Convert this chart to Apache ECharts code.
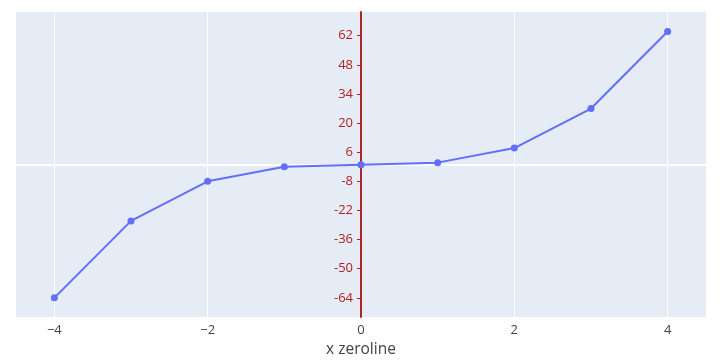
<!DOCTYPE html>
<html><head><meta charset="utf-8">
<script src="https://cdn.jsdelivr.net/npm/echarts@6/dist/echarts.min.js"></script>
<style>html,body{margin:0;padding:0;background:#fff}#c{width:721px;height:360px}</style>
</head><body><div id="c"></div>
<script>
const xValues = [-4, -3, -2, -1, 0, 1, 2, 3, 4];
const yValues = [-64, -27, -8, -1, 0, 1, 8, 27, 64];
const xTicks = [-4, -2, 0, 2, 4];
const yTicks = [-64, -50, -36, -22, -8, 6, 20, 34, 48, 62];
const xTitle = 'x zeroline';

const chart = echarts.init(document.getElementById('c'), null, {renderer: 'canvas'});
const fmt = v => (v < 0 ? '\u2212' + Math.abs(v) : String(v));
const FF = '"Open Sans", sans-serif';
const L = 16, R = 15, T = 12, B = 43, W = 721;
const xMin = -4.5, xMax = 4.5, yMin = -73.2, yMax = 73.4;
// second grid starts where x = 0 lies in the first grid, to host the y labels
const zeroLeft = L + (0 - xMin) / (xMax - xMin) * (W - L - R);
chart.setOption({
  animation: false,
  grid: [
    {left: L, right: R, top: T, bottom: B, show: true, backgroundColor: '#e5ecf6', borderWidth: 0, containLabel: false, outerBoundsMode: 'none'},
    {left: zeroLeft, right: R, top: T, bottom: B, show: false, containLabel: false, outerBoundsMode: 'none'}
  ],
  xAxis: [{
    type: 'value', min: xMin, max: xMax,
    name: xTitle, nameLocation: 'middle', nameGap: 19,
    nameTextStyle: {color: '#444', fontSize: 15.5, fontFamily: FF},
    axisLine: {show: false}, axisTick: {show: false, customValues: xTicks},
    axisLabel: {customValues: xTicks, color: '#444', fontSize: 13, margin: 7, fontFamily: FF, formatter: fmt},
    splitLine: {show: true, lineStyle: {color: '#fff', width: 1}}
  }, {
    gridIndex: 1, type: 'value', min: 0, max: xMax, show: false
  }],
  yAxis: [{
    type: 'value', min: yMin, max: yMax,
    axisLine: {show: true, onZero: true, lineStyle: {color: '#b22222', width: 2}},
    axisTick: {show: false}, axisLabel: {show: false}, splitLine: {show: false}
  }, {
    gridIndex: 1, type: 'value', min: yMin, max: yMax, position: 'left',
    axisLine: {show: false, onZero: false},
    axisTick: {show: true, customValues: yTicks, length: 4, inside: false, lineStyle: {color: '#b22222', width: 1}},
    axisLabel: {customValues: yTicks, color: '#b22222', fontSize: 13, margin: 8, fontFamily: FF},
    splitLine: {show: false}
  }],
  series: [{
    type: 'line',
    data: xValues.map((x, i) => [x, yValues[i]]),
    symbol: 'circle', symbolSize: 7,
    lineStyle: {color: '#636efa', width: 2},
    itemStyle: {color: '#636efa'},
    markLine: {
      silent: true, symbol: 'none', label: {show: false}, z: 1,
      lineStyle: {color: '#fff', width: 2, type: 'solid'},
      data: [{yAxis: 0}]
    }
  }]
});
</script></body></html>
